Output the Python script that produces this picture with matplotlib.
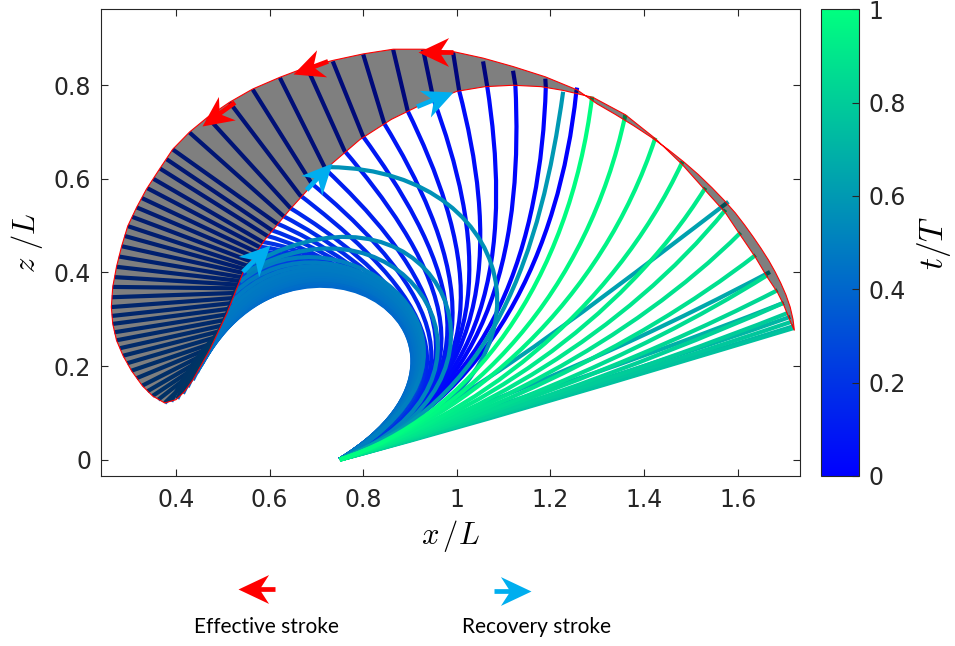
import math
import matplotlib
matplotlib.use('Agg')
import matplotlib.pyplot as plt
from matplotlib.path import Path
from matplotlib.patches import PathPatch, Polygon
from matplotlib.markers import MarkerStyle
from matplotlib import cm, colors

plt.rcParams['mathtext.fontset'] = 'cm'
plt.rcParams['font.family'] = ['DejaVu Sans']

# ---- data (x/L, z/L) ----
base_x, base_z = 0.75, 0.0

# effective stroke: tip runs counter-clockwise along the outer arc,
# the part beyond the inner envelope (knee) is nearly straight
eff_t = [0.000, 0.012, 0.024, 0.036, 0.048, 0.060, 0.072, 0.084, 0.096, 0.108,
         0.120, 0.132, 0.144, 0.156, 0.168,
         0.176, 0.183, 0.191, 0.198, 0.206, 0.213, 0.221, 0.228, 0.236, 0.243,
         0.251, 0.258, 0.266, 0.273, 0.281, 0.288, 0.296, 0.303, 0.311, 0.318,
         0.326, 0.333, 0.341, 0.348, 0.356, 0.363, 0.371, 0.378, 0.386, 0.393,
         0.400]
eff_tip_x = [1.257, 1.189, 1.120, 1.056, 0.992, 0.928, 0.864, 0.800, 0.735, 0.680,
             0.622, 0.564, 0.515, 0.468, 0.429,
             0.393, 0.380, 0.366, 0.352, 0.339, 0.327, 0.316, 0.306, 0.297, 0.290,
             0.284, 0.278, 0.273, 0.269, 0.265, 0.263, 0.262, 0.263, 0.265, 0.268,
             0.273, 0.280, 0.287, 0.296, 0.305, 0.316, 0.328, 0.339, 0.350, 0.362,
             0.376]
eff_tip_z = [0.795, 0.814, 0.831, 0.851, 0.870, 0.876, 0.876, 0.866, 0.851, 0.838,
             0.816, 0.791, 0.763, 0.731, 0.699,
             0.663, 0.642, 0.622, 0.600, 0.580, 0.559, 0.539, 0.519, 0.499, 0.478,
             0.456, 0.434, 0.412, 0.390, 0.369, 0.347, 0.326, 0.307, 0.290, 0.272,
             0.255, 0.238, 0.222, 0.206, 0.190, 0.174, 0.158, 0.146, 0.136, 0.128,
             0.121]
eff_knee_x = [1.255, 1.190, 1.125, 1.065, 1.005, 0.950, 0.895, 0.845, 0.800, 0.760,
              0.720, 0.690, 0.665, 0.645, 0.630,
              0.615, 0.605, 0.595, 0.585, 0.577, 0.569, 0.562, 0.556, 0.551, 0.547,
              0.543, 0.539, 0.535, 0.531, 0.527, 0.523, 0.519, 0.515, 0.511, 0.507,
              0.502, 0.497, 0.492, 0.487, 0.482, 0.476, 0.470, 0.463, 0.457, 0.451,
              0.445]
eff_knee_z = [0.785, 0.796, 0.800, 0.797, 0.788, 0.770, 0.745, 0.718, 0.690, 0.660,
              0.620, 0.590, 0.565, 0.537, 0.520,
              0.505, 0.490, 0.478, 0.465, 0.455, 0.445, 0.435, 0.425, 0.415, 0.407,
              0.399, 0.390, 0.382, 0.374, 0.366, 0.356, 0.345, 0.334, 0.322, 0.310,
              0.298, 0.286, 0.274, 0.262, 0.250, 0.240, 0.230, 0.218, 0.207, 0.197,
              0.188]
eff_c1_x = [1.07, 1.08, 1.09, 1.10, 1.10, 1.11, 1.12, 1.12, 1.13, 1.13,
            1.13, 1.13, 1.13, 1.13, 1.14,
            1.14, 1.14, 1.14, 1.15, 1.15, 1.15, 1.15, 1.16, 1.16, 1.16,
            1.16, 1.16, 1.16, 1.17, 1.17, 1.17, 1.17, 1.17, 1.17, 1.17,
            1.17, 1.17, 1.17, 1.17, 1.17, 1.17, 1.17, 1.17, 1.17, 1.17,
            1.17]
eff_c1_z = [0.12, 0.13, 0.13, 0.14, 0.14, 0.15, 0.15, 0.15, 0.16, 0.16,
            0.17, 0.17, 0.18, 0.18, 0.19,
            0.19, 0.20, 0.20, 0.20, 0.21, 0.21, 0.21, 0.22, 0.22, 0.22,
            0.23, 0.23, 0.23, 0.24, 0.24, 0.24, 0.24, 0.25, 0.25, 0.25,
            0.25, 0.25, 0.26, 0.26, 0.26, 0.26, 0.26, 0.26, 0.26, 0.26,
            0.26]
eff_c2_x = [1.22, 1.18, 1.14, 1.11, 1.08, 1.05, 1.02, 0.99, 0.96, 0.93,
            0.90, 0.87, 0.84, 0.82, 0.80,
            0.79, 0.78, 0.77, 0.76, 0.75, 0.745, 0.74, 0.74, 0.74, 0.74,
            0.74, 0.74, 0.74, 0.74, 0.74, 0.74, 0.73, 0.73, 0.72, 0.72,
            0.71, 0.71, 0.70, 0.70, 0.69, 0.69, 0.68, 0.68, 0.67, 0.67,
            0.66]
eff_c2_z = [0.45, 0.47, 0.49, 0.50, 0.50, 0.50, 0.49, 0.48, 0.47, 0.46,
            0.45, 0.44, 0.43, 0.43, 0.43,
            0.43, 0.43, 0.43, 0.44, 0.44, 0.445, 0.45, 0.45, 0.46, 0.46,
            0.47, 0.48, 0.49, 0.50, 0.51, 0.52, 0.54, 0.55, 0.56, 0.57,
            0.58, 0.58, 0.59, 0.59, 0.60, 0.60, 0.60, 0.60, 0.60, 0.60,
            0.60]

# recovery stroke: curled shapes, tip runs up the inner envelope
rec_t = [0.405, 0.411, 0.417, 0.423, 0.429, 0.435, 0.441, 0.447, 0.453, 0.459,
         0.465, 0.471, 0.477, 0.483, 0.490, 0.497,
         0.52, 0.54, 0.57, 0.60]
rec_tip_x = [0.390, 0.403, 0.415, 0.425, 0.436, 0.445, 0.454, 0.463, 0.472, 0.481,
             0.490, 0.500, 0.509, 0.518, 0.526, 0.537,
             0.550, 0.565, 0.728, 1.227]
rec_tip_z = [0.124, 0.130, 0.141, 0.155, 0.170, 0.186, 0.202, 0.218, 0.234, 0.253,
             0.272, 0.293, 0.313, 0.335, 0.357, 0.380,
             0.400, 0.420, 0.625, 0.786]
rec_c1_x = [1.17, 1.17, 1.17, 1.17, 1.17, 1.17, 1.17, 1.17, 1.17, 1.17,
            1.17, 1.17, 1.17, 1.17, 1.17, 1.17,
            1.16, 1.18, 1.25, 1.08]
rec_c1_z = [0.26, 0.26, 0.26, 0.26, 0.26, 0.26, 0.26, 0.25, 0.25, 0.25,
            0.25, 0.25, 0.24, 0.24, 0.24, 0.24,
            0.16, 0.15, 0.15, 0.12]
rec_c2_x = [0.63, 0.63, 0.64, 0.64, 0.65, 0.65, 0.66, 0.67, 0.68, 0.69,
            0.70, 0.71, 0.72, 0.73, 0.74, 0.75,
            0.90, 0.97, 1.15, 1.18]
rec_c2_z = [0.62, 0.62, 0.62, 0.62, 0.61, 0.61, 0.60, 0.595, 0.59, 0.585,
            0.58, 0.575, 0.57, 0.565, 0.56, 0.56,
            0.60, 0.64, 0.62, 0.45]

# end of recovery: nearly straight, tip on the outer right arc
crs_t = [0.63, 0.66, 0.69, 0.71, 0.73]
crs_tip_x = [1.580, 1.669, 1.698, 1.712, 1.719]
crs_tip_z = [0.551, 0.401, 0.335, 0.305, 0.285]
crs_c1_x = [1.00, 1.00, 1.00, 1.00, 1.00]
crs_c1_z = [0.11, 0.10, 0.09, 0.08, 0.07]
crs_c2_x = [1.20, 1.25, 1.28, 1.30, 1.32]
crs_c2_z = [0.26, 0.18, 0.17, 0.16, 0.16]

# return to start: tip climbs the inner side of the right sliver
ret_t = [0.76, 0.78, 0.80, 0.82, 0.84, 0.86, 0.875, 0.89, 0.905, 0.92,
         0.935, 0.95, 0.97, 0.99]
ret_tip_x = [1.719, 1.713, 1.706, 1.698, 1.685, 1.663, 1.638, 1.606, 1.574, 1.531,
             1.482, 1.424, 1.360, 1.289]
ret_tip_z = [0.281, 0.294, 0.313, 0.335, 0.362, 0.394, 0.437, 0.485, 0.534, 0.581,
             0.637, 0.688, 0.737, 0.776]
ret_c1_x = [1.00, 1.00, 1.01, 1.02, 1.02, 1.02, 1.03, 1.03, 1.03, 1.03,
            1.03, 1.03, 1.03, 1.03]
ret_c1_z = [0.065, 0.07, 0.07, 0.07, 0.075, 0.075, 0.08, 0.08, 0.08, 0.085,
            0.085, 0.09, 0.09, 0.09]
ret_c2_x = [1.35, 1.36, 1.37, 1.37, 1.37, 1.37, 1.37, 1.37, 1.36, 1.35,
            1.33, 1.31, 1.28, 1.24]
ret_c2_z = [0.17, 0.175, 0.18, 0.19, 0.20, 0.21, 0.23, 0.25, 0.27, 0.29,
            0.31, 0.34, 0.36, 0.38]

# swept area (tip trajectory), outer arc then inner envelope
env_x = [1.721, 1.718, 1.712, 1.703, 1.692, 1.680, 1.666, 1.650, 1.633, 1.615,
         1.595, 1.572, 1.545, 1.516, 1.485, 1.451, 1.415, 1.377, 1.338, 1.300,
         1.257, 1.189, 1.120, 1.056, 0.992, 0.928, 0.864, 0.800,
         0.735, 0.680, 0.622, 0.564, 0.515, 0.468, 0.429, 0.393, 0.365, 0.337,
         0.316, 0.297, 0.284, 0.273, 0.265, 0.262, 0.265, 0.273, 0.287, 0.305,
         0.328, 0.350, 0.376,
         0.400, 0.418, 0.436, 0.472, 0.509, 0.543, 0.590, 0.643, 0.728, 0.793,
         0.860, 0.915, 1.000, 1.060, 1.120, 1.180, 1.227, 1.291,
         1.360, 1.424, 1.482, 1.531, 1.574, 1.606, 1.638, 1.663, 1.685, 1.698,
         1.708, 1.716]
env_z = [0.276, 0.300, 0.326, 0.352, 0.377, 0.401, 0.426, 0.451, 0.476, 0.501,
         0.527, 0.553, 0.581, 0.609, 0.636, 0.663, 0.689, 0.714, 0.738, 0.760,
         0.790, 0.818, 0.840, 0.858, 0.872, 0.877, 0.877, 0.867,
         0.853, 0.839, 0.817, 0.792, 0.764, 0.732, 0.700, 0.663, 0.621, 0.578,
         0.539, 0.499, 0.456, 0.412, 0.369, 0.326, 0.290, 0.255, 0.222, 0.190,
         0.158, 0.136, 0.121,
         0.128, 0.145, 0.170, 0.234, 0.313, 0.399, 0.470, 0.534, 0.628, 0.684,
         0.727, 0.754, 0.787, 0.797, 0.800, 0.797, 0.789, 0.774,
         0.737, 0.686, 0.630, 0.575, 0.527, 0.479, 0.432, 0.390, 0.357, 0.331,
         0.306, 0.287]

# direction arrows (tail -> head)
eff_arrows = [((0.992, 0.872), (0.917, 0.872)),
              ((0.725, 0.851), (0.650, 0.823)),
              ((0.526, 0.763), (0.455, 0.712))]
rec_arrows = [((0.543, 0.401), (0.601, 0.459)),
              ((0.679, 0.576), (0.733, 0.634)),
              ((0.915, 0.754), (0.992, 0.786))]

xticks = [0.4, 0.6, 0.8, 1.0, 1.2, 1.4, 1.6]
xtick_labels = ['0.4', '0.6', '0.8', '1', '1.2', '1.4', '1.6']
zticks = [0, 0.2, 0.4, 0.6, 0.8]
ztick_labels = ['0', '0.2', '0.4', '0.6', '0.8']
cticks = [0, 0.2, 0.4, 0.6, 0.8, 1]
ctick_labels = ['0', '0.2', '0.4', '0.6', '0.8', '1']

red = '#ff0000'
sky = '#00aeef'
ink = '#262626'

# stealth arrow head, tip at the origin
head_path = Path([(0, 0), (-1.8, 0.85), (-1.25, 0), (-1.8, -0.85), (0, 0)],
                 [Path.MOVETO, Path.LINETO, Path.LINETO, Path.LINETO, Path.CLOSEPOLY])


def stealth(axis, tail, head, color, head_len, z=6):
    dx, dy = head[0] - tail[0], head[1] - tail[1]
    n = math.hypot(dx, dy)
    ang = math.degrees(math.atan2(dy, dx))
    end = (head[0] - dx / n * head_len * 0.6, head[1] - dy / n * head_len * 0.6)
    axis.plot([tail[0], end[0]], [tail[1], end[1]], color=color, lw=3.4,
              solid_capstyle='butt', zorder=z)
    axis.plot([head[0]], [head[1]], marker=MarkerStyle(head_path).rotated(deg=ang),
              markersize=44, color=color, markeredgewidth=0, zorder=z)


fig = plt.figure(figsize=(9.55, 6.46), dpi=100)
ax = fig.add_axes([0.1058, 0.2632, 0.7319, 0.7229])
cmap = plt.get_cmap('winter')
norm = colors.Normalize(0, 1)

knee_x = eff_knee_x + [None] * (len(rec_t) + len(crs_t) + len(ret_t))
knee_z = eff_knee_z + [None] * (len(rec_t) + len(crs_t) + len(ret_t))
frames_t = eff_t + rec_t + crs_t + ret_t
frames_tip_x = eff_tip_x + rec_tip_x + crs_tip_x + ret_tip_x
frames_tip_z = eff_tip_z + rec_tip_z + crs_tip_z + ret_tip_z
frames_c1_x = eff_c1_x + rec_c1_x + crs_c1_x + ret_c1_x
frames_c1_z = eff_c1_z + rec_c1_z + crs_c1_z + ret_c1_z
frames_c2_x = eff_c2_x + rec_c2_x + crs_c2_x + ret_c2_x
frames_c2_z = eff_c2_z + rec_c2_z + crs_c2_z + ret_c2_z

for i, t in enumerate(frames_t):
    verts = [(base_x, base_z),
             (frames_c1_x[i], frames_c1_z[i]),
             (frames_c2_x[i], frames_c2_z[i])]
    codes = [Path.MOVETO, Path.CURVE4, Path.CURVE4, Path.CURVE4]
    if knee_x[i] is not None:
        verts += [(knee_x[i], knee_z[i]), (frames_tip_x[i], frames_tip_z[i])]
        codes += [Path.LINETO]
    else:
        verts += [(frames_tip_x[i], frames_tip_z[i])]
    ax.add_patch(PathPatch(Path(verts, codes), facecolor='none',
                           edgecolor=cmap(norm(t)), lw=3.0,
                           joinstyle='round', capstyle='butt', zorder=2))

ax.add_patch(Polygon(list(zip(env_x, env_z)), closed=True,
                     facecolor=(0, 0, 0, 0.5), edgecolor=red, lw=0.8, zorder=3))

for (a, b) in eff_arrows:
    stealth(ax, a, b, red, 0.046)
for (a, b) in rec_arrows:
    stealth(ax, a, b, sky, 0.046)

ax.set_xlim(0.24, 1.733)
ax.set_ylim(-0.035, 0.963)
ax.set_xticks(xticks)
ax.set_xticklabels(xtick_labels)
ax.set_yticks(zticks)
ax.set_yticklabels(ztick_labels)
ax.tick_params(direction='in', top=True, right=True, length=5, width=0.8,
               colors=ink, labelsize=17)
ax.tick_params(axis='x', pad=9)
ax.tick_params(axis='y', pad=7)
for s in ax.spines.values():
    s.set_color(ink)
    s.set_linewidth(0.8)
ax.set_xlabel(r'$x\,/L$', fontsize=22, labelpad=4)
ax.set_ylabel(r'$z\ /L$', fontsize=22, labelpad=6)

cax = fig.add_axes([0.8597, 0.2632, 0.0398, 0.7224])
sm = cm.ScalarMappable(norm=norm, cmap=cmap)
cb = fig.colorbar(sm, cax=cax, ticks=cticks)
cb.ax.set_yticklabels(ctick_labels)
cb.ax.tick_params(direction='in', length=5, width=0.8, colors=ink,
                  labelsize=17, pad=7)
cb.outline.set_edgecolor(ink)
cb.outline.set_linewidth(0.8)
cb.set_label(r'$t/T$', fontsize=24, labelpad=6)

# key below the plot, drawn in a pixel-sized overlay
key = fig.add_axes([0, 0, 1, 1], zorder=-1)
key.set_xlim(0, 955)
key.set_ylim(646, 0)
key.axis('off')
stealth(key, (275, 589), (238, 589), red, 22)
stealth(key, (494, 591), (531, 591), sky, 22)
key.text(266, 627, 'Effective stroke', ha='center', va='center',
         fontsize=15, family='Lato', color='black')
key.text(536, 627, 'Recovery stroke', ha='center', va='center',
         fontsize=15, family='Lato', color='black')

fig.savefig('out.png', dpi=100)
